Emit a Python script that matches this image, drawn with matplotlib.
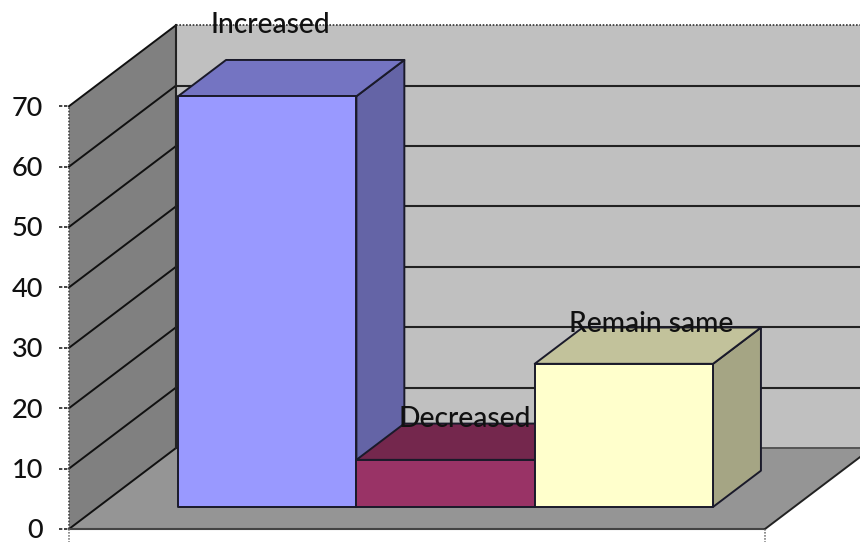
import matplotlib
matplotlib.use('Agg')
import matplotlib.pyplot as plt

categories = ['Increased', 'Decreased', 'Remain same']
values = [68, 7.8, 23.7]
y_ticks = [0, 10, 20, 30, 40, 50, 60, 70]

front_colors = ['#9999FF', '#993366', '#FFFFCC']
top_colors = ['#7474C2', '#74274D', '#C2C29B']
side_colors = ['#6464A6', '#642142', '#A5A584']
label_offsets = [(-45, 22), (-29, -8), (-21, -9)]  # px from the bar's back top edge

PX_X = 178.3  # px per category slot
PX_Y = 6.04   # px per value unit
DEPTH_X = 107 / PX_X
DEPTH_Y = 81 / PX_Y
BAR_START = 0.272
BAR_END = 0.72
FLOOR_LEFT = -80 / PX_X
FLOOR_RIGHT = 616 / PX_X
Y_MAX = 70
EDGE = '#1a1a2a'

plt.rcParams['font.family'] = ['Lato', 'DejaVu Sans']

fig = plt.figure(figsize=(8.6, 5.42), dpi=100)
ax = fig.add_axes([0, 0, 1, 1])
ax.set_xlim(-149 / PX_X, 711 / PX_X)
ax.set_ylim(-13 / PX_Y, 529 / PX_Y)
ax.axis('off')


def pt(x, y, d=0):
    return (x + d * DEPTH_X, y + d * DEPTH_Y)


def face(points, color, z):
    ax.fill(*zip(*points), facecolor=color, edgecolor=EDGE, linewidth=1.4, zorder=z, joinstyle='round')


# walls and floor
ax.fill(*zip(pt(FLOOR_LEFT, 0, 1), pt(FLOOR_RIGHT, 0, 1), pt(FLOOR_RIGHT, Y_MAX, 1), pt(FLOOR_LEFT, Y_MAX, 1)),
        facecolor='#C0C0C0', edgecolor='none', zorder=1)
ax.fill(*zip(pt(FLOOR_LEFT, 0), pt(FLOOR_LEFT, 0, 1), pt(FLOOR_LEFT, Y_MAX, 1), pt(FLOOR_LEFT, Y_MAX)),
        facecolor='#808080', edgecolor='none', zorder=1)
ax.fill(*zip(pt(FLOOR_LEFT, 0), pt(FLOOR_RIGHT, 0), pt(FLOOR_RIGHT, 0, 1), pt(FLOOR_LEFT, 0, 1)),
        facecolor='#959595', edgecolor='none', zorder=1)

# gridlines on left wall and back wall
for t in y_ticks:
    a = pt(FLOOR_LEFT, t)
    b = pt(FLOOR_LEFT, t, 1)
    c = pt(FLOOR_RIGHT, t, 1)
    ax.plot([a[0], b[0]], [a[1], b[1]], color='#111111', lw=1.4, zorder=2)
    if t == Y_MAX:
        ax.plot([b[0], c[0]], [b[1], c[1]], color='#333333', lw=1.2, ls=(0, (1, 1)), zorder=2)
    elif t == 0:
        ax.plot([b[0], c[0]], [b[1], c[1]], color='#555555', lw=1.4, zorder=2)
    else:
        ax.plot([b[0], c[0]], [b[1], c[1]], color='#222222', lw=1.5, zorder=2)
    # tick mark and label
    ax.plot([a[0] - 10 / PX_X, a[0]], [t, t], color='#222222', lw=1.2, ls=(0, (2, 1)), zorder=3)
    ax.annotate(str(t), (a[0], t), xytext=(-26, -2), textcoords='offset pixels',
                ha='right', va='center', fontsize=19.5, fontweight='medium', color='#111111', zorder=6)

# wall edges and floor front edge
b0 = pt(FLOOR_LEFT, 0, 1)
b1 = pt(FLOOR_LEFT, Y_MAX, 1)
ax.plot([b0[0], b1[0]], [b0[1], b1[1]], color='#222222', lw=1.5, zorder=2)
a0 = pt(FLOOR_LEFT, 0)
a1 = pt(FLOOR_LEFT, Y_MAX)
ax.plot([a0[0], a1[0]], [a0[1], a1[1]], color='#444444', lw=1.2, ls=(0, (1, 1)), zorder=2)
r0 = pt(FLOOR_RIGHT, 0)
r1 = pt(FLOOR_RIGHT, 0, 1)
ax.plot([a0[0], r0[0]], [0, 0], color='#444444', lw=1.5, zorder=2)
ax.plot([r0[0], r1[0]], [r0[1], r1[1]], color='#222222', lw=1.4, zorder=2)
for x in [FLOOR_LEFT, FLOOR_RIGHT]:
    ax.plot([x, x], [0, -13 / PX_Y], color='#666666', lw=1.1, ls=(0, (1, 1)), zorder=2)

# bars
for i, (name, v) in enumerate(zip(categories, values)):
    z = 4
    face([pt(i + 1, 0, BAR_START), pt(i + 1, 0, BAR_END), pt(i + 1, v, BAR_END), pt(i + 1, v, BAR_START)],
         side_colors[i], z)
    face([pt(i, v, BAR_START), pt(i + 1, v, BAR_START), pt(i + 1, v, BAR_END), pt(i, v, BAR_END)],
         top_colors[i], z)
    face([pt(i, 0, BAR_START), pt(i + 1, 0, BAR_START), pt(i + 1, v, BAR_START), pt(i, v, BAR_START)],
         front_colors[i], z + 0.5)

for i, (name, v) in enumerate(zip(categories, values)):
    ax.annotate(name, pt(i + 0.5, v, BAR_END), xytext=label_offsets[i], textcoords='offset pixels',
                ha='center', va='bottom', fontsize=20.3, fontweight='medium', color='#111111', zorder=7)

fig.savefig('out.png', dpi=100)
